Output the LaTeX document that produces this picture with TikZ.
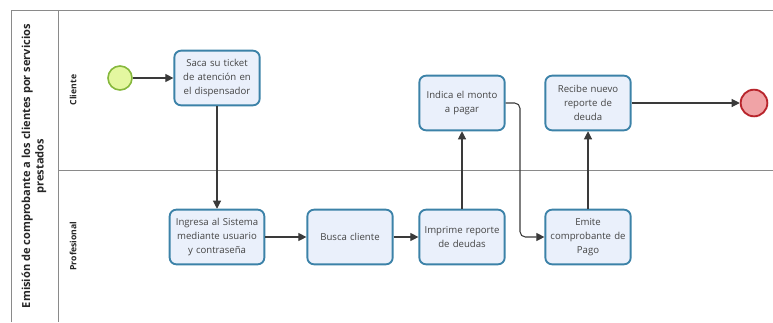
\documentclass[tikz,border=0pt]{standalone}
\usepackage{fontspec}
\setmainfont{Open Sans}
\usetikzlibrary{arrows.meta, positioning}

\definecolor{taskline}{HTML}{3C82A8}
\definecolor{taskfill}{HTML}{EAF0FB}
\definecolor{flowgray}{HTML}{3A3A3A}
\definecolor{lanegray}{HTML}{8A8A8A}
\definecolor{textgray}{HTML}{444444}
\definecolor{startfill}{HTML}{E4F7A0}
\definecolor{startline}{HTML}{86B83C}
\definecolor{endfill}{HTML}{F0A3A6}
\definecolor{endline}{HTML}{B8252C}

\begin{document}
\begin{tikzpicture}[
  x=0.75pt, y=-0.75pt,
  task/.style={draw=taskline, fill=taskfill, line width=1.4pt, rounded corners=5pt, align=center,
    minimum width=64pt, minimum height=41pt, text width=62pt, inner sep=1pt,
    text=textgray, font=\fontsize{7.2}{10.5}\selectfont},
  flow/.style={-{Triangle[length=6pt,width=6pt]}, draw=flowgray, line width=0.8pt},
  lane/.style={draw=lanegray, line width=0.7pt},
  lanelabel/.style={rotate=90, text=black!85, font=\bfseries\fontsize{6.5}{8}\selectfont}
]
\useasboundingbox (0,0) rectangle (773,322);

% pool and lanes
\draw [lane] (11,322) -- (11,10) -- (773,10);
\draw [lane] (58,10) -- (58,322);
\draw [lane] (58,170) -- (773,170);
\node (pool) [rotate=90, align=center, text=black!85, font=\bfseries\fontsize{8.3}{10}\selectfont]
  at (34,166) {Emisión de comprobante a los clientes por servicios\\prestados};
\node (cliente) [lanelabel] at (73,90) {Cliente};
\node (profesional) [lanelabel] at (73,246) {Profesional};

% events
\node (start) [circle, draw=startline, fill=startfill, line width=1.2pt, minimum size=18pt] at (120,78) {};
\node (end) [circle, draw=endline, fill=endfill, line width=1.4pt, minimum size=20pt] at (754,103) {};

% tasks
\node (ticket) [task] at (217,78) {Saca su ticket\\de atención en\\el dispensador};
\node (monto) [task] at (462,103) {Indica el monto\\a pagar};
\node (recibe) [task] at (588,103) {Recibe nuevo\\reporte de\\deuda};
\node (ingresa) [task, minimum width=71pt, text width=69pt] at (217,237) {Ingresa al Sistema\\mediante usuario\\y contraseña};
\node (busca) [task] at (350,237) {Busca cliente};
\node (imprime) [task] at (462,237) {Imprime reporte\\de deudas};
\node (emite) [task] at (588,237) {Emite\\comprobante de\\Pago};

% flows
\draw [flow] (start) -- (ticket);
\draw [flow] (ticket) -- (ingresa);
\draw [flow] (ingresa) -- (busca);
\draw [flow] (busca) -- (imprime);
\draw [flow] (imprime) -- (monto);
\draw [flow, rounded corners=4pt] (monto.east) -- (520,103) -- (520,237) -- (emite.west);
\draw [flow] (emite) -- (recibe);
\draw [flow] (recibe) -- (end);
\end{tikzpicture}
\end{document}
